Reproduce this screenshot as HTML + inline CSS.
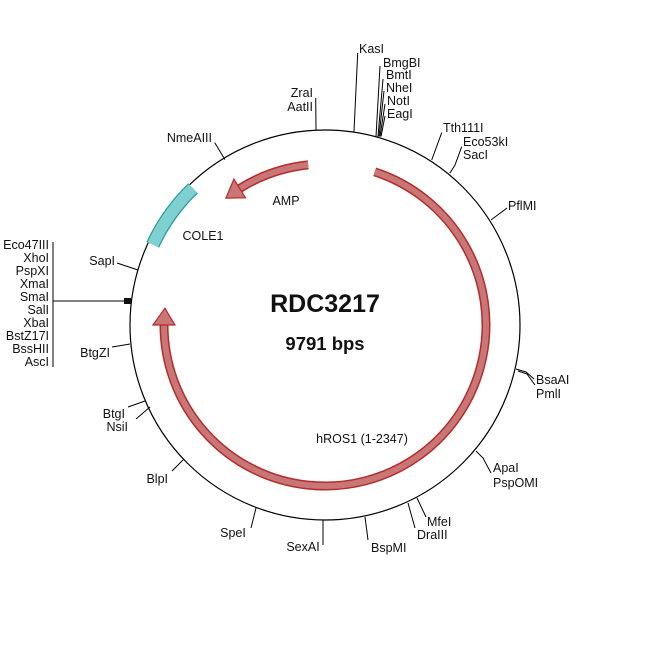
<!DOCTYPE html>
<html><head><meta charset="utf-8"><style>
html,body{margin:0;padding:0;background:#fff;}
svg{display:block;}
text{font-family:"Liberation Sans",Arial,sans-serif;font-size:12.5px;fill:#111;}
</style></head><body>
<svg width="650" height="650" viewBox="0 0 650 650" xmlns="http://www.w3.org/2000/svg">
<rect width="650" height="650" fill="#fff"/>
<circle cx="325" cy="325" r="195" fill="none" stroke="#000" stroke-width="1.2"/>
<!-- COLE1 -->
<path d="M152.8,244.7 A190,190 0 0 1 193,188.3" fill="none" stroke="#2f9c9c" stroke-width="14"/>
<path d="M152.8,244.7 A190,190 0 0 1 193,188.3" fill="none" stroke="#7fd0d0" stroke-width="11.5"/>
<!-- hROS1 -->
<path d="M374.7,171.9 A161,161 0 1 1 164,325" fill="none" stroke="#b52b2b" stroke-width="9"/>
<path d="M374.7,171.9 A161,161 0 1 1 164,325" fill="none" stroke="#c97676" stroke-width="6"/>
<polygon points="175,325 153,325 164.9,308.2" fill="#c97676" stroke="#b52b2b" stroke-width="1.2"/>
<!-- AMP -->
<path d="M308.2,164.9 A161,161 0 0 0 239.7,188.5" fill="none" stroke="#b52b2b" stroke-width="9"/>
<path d="M308.2,164.9 A161,161 0 0 0 239.7,188.5" fill="none" stroke="#c97676" stroke-width="6"/>
<polygon points="245.5,197.8 233.9,179.1 225.9,198.1" fill="#c97676" stroke="#b52b2b" stroke-width="1.2"/>

<g stroke="#000" stroke-width="1" fill="none">
<line x1="357.7" y1="53" x2="354" y2="131.5"/>
<line x1="380" y1="66" x2="376" y2="136.5"/>
<line x1="383" y1="79" x2="378" y2="136.5"/>
<line x1="384" y1="91" x2="379" y2="136.5"/>
<line x1="385" y1="104" x2="380" y2="136.5"/>
<line x1="385" y1="116" x2="381" y2="136.5"/>
<line x1="315.7" y1="98" x2="316" y2="130"/>
<polyline points="441.7,132.7 431.7,160"/>
<polyline points="461.7,146.7 455,165 450,173"/>
<line x1="214.7" y1="142.6" x2="225" y2="159.6"/>
<line x1="507" y1="208" x2="491" y2="220"/>
<polyline points="534,379 526,372 516,369"/>
<polyline points="535,385 527,374 518,371"/>
<polyline points="491,473 483,458 476,451"/>
<polyline points="251,528 256,508"/>
<line x1="323" y1="520" x2="323" y2="545"/>
<line x1="365" y1="517" x2="368" y2="540"/>
<line x1="408" y1="503" x2="415" y2="528"/>
<line x1="417" y1="498" x2="426" y2="517"/>
<line x1="172" y1="471" x2="184" y2="459"/>
<line x1="128" y1="407" x2="145" y2="401"/>
<line x1="136" y1="419" x2="150" y2="407"/>
<line x1="112" y1="347" x2="130" y2="344"/>
<line x1="117" y1="263" x2="138" y2="270"/>
<line x1="53" y1="242" x2="53" y2="367"/>
<line x1="53" y1="301" x2="130" y2="301"/>
</g>
<rect x="124" y="298" width="7" height="6" fill="#111"/>

<text x="359" y="53">KasI</text>
<text x="383" y="67">BmgBI</text>
<text x="386" y="79">BmtI</text>
<text x="386" y="92">NheI</text>
<text x="387" y="105">NotI</text>
<text x="387" y="118">EagI</text>
<text x="313" y="97" text-anchor="end">ZraI</text>
<text x="313" y="111" text-anchor="end">AatII</text>
<text x="443" y="132">Tth111I</text>
<text x="463" y="146">Eco53kI</text>
<text x="463" y="159">SacI</text>
<text x="212" y="142" text-anchor="end">NmeAIII</text>
<text x="508" y="210">PflMI</text>
<text x="536" y="384">BsaAI</text>
<text x="536" y="398">PmlI</text>
<text x="493" y="472">ApaI</text>
<text x="493" y="487">PspOMI</text>
<text x="427" y="526">MfeI</text>
<text x="417" y="539">DraIII</text>
<text x="371" y="552">BspMI</text>
<text x="303" y="551" text-anchor="middle">SexAI</text>
<text x="233" y="537" text-anchor="middle">SpeI</text>
<text x="168" y="483" text-anchor="end">BlpI</text>
<text x="125" y="418" text-anchor="end">BtgI</text>
<text x="128" y="431" text-anchor="end">NsiI</text>
<text x="110" y="357" text-anchor="end">BtgZI</text>
<text x="115" y="265" text-anchor="end">SapI</text>
<g text-anchor="end">
<text x="49" y="249">Eco47III</text>
<text x="49" y="262">XhoI</text>
<text x="49" y="275">PspXI</text>
<text x="49" y="288">XmaI</text>
<text x="49" y="301">SmaI</text>
<text x="49" y="314">SalI</text>
<text x="49" y="327">XbaI</text>
<text x="49" y="340">BstZ17I</text>
<text x="49" y="353">BssHII</text>
<text x="49" y="366">AscI</text>
</g>
<text x="203" y="240" text-anchor="middle">COLE1</text>
<text x="286" y="205" text-anchor="middle">AMP</text>
<text x="362" y="443" text-anchor="middle">hROS1 (1-2347)</text>
<text x="325" y="312" text-anchor="middle" style="font-size:25px;font-weight:bold">RDC3217</text>
<text x="325" y="350" text-anchor="middle" style="font-size:18.5px;font-weight:bold">9791 bps</text>
</svg>
</body></html>
